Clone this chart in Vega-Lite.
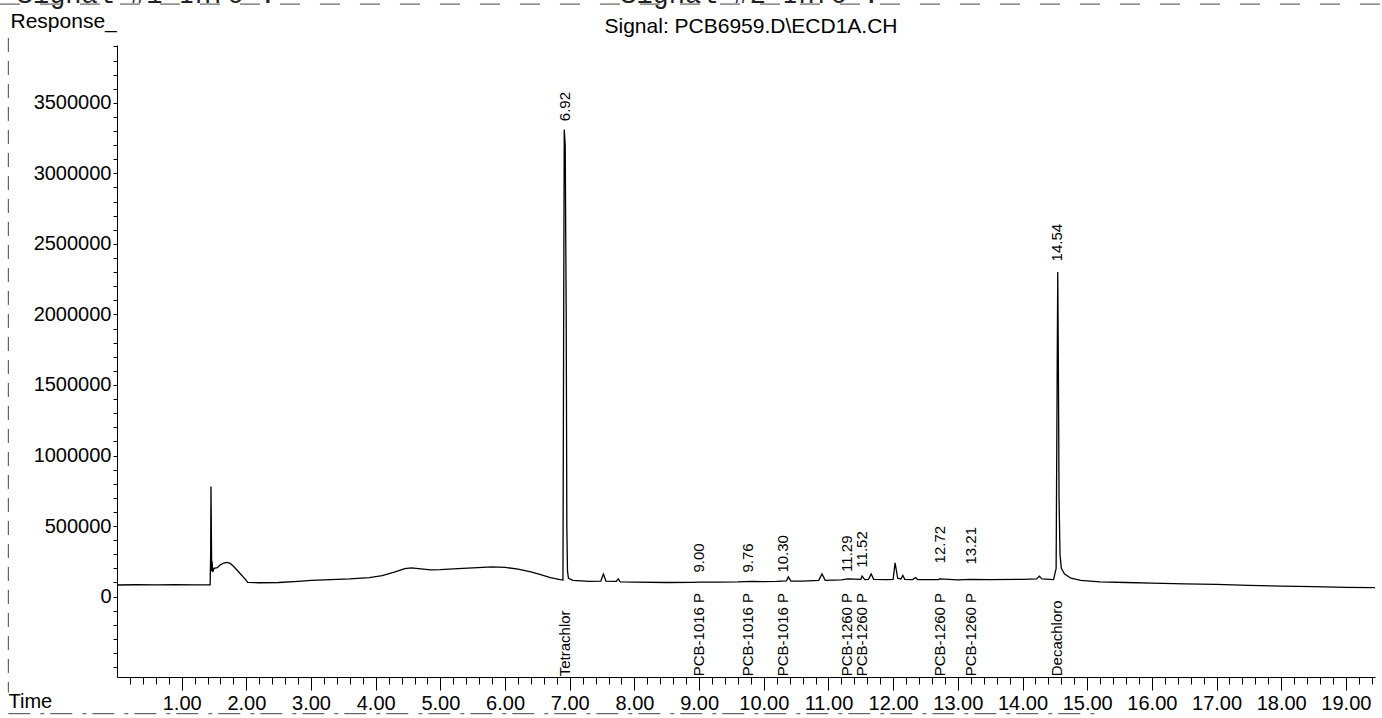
{
  "$schema": "https://vega.github.io/schema/vega-lite/v6.json",
  "width": 1258,
  "height": 632,
  "autosize": {"type": "none"},
  "padding": {"left": 117, "top": 45, "right": 7, "bottom": 41},
  "background": "white",
  "config": {"view": {"stroke": null}, "font": "Liberation Sans"},
  "title": {"text": "Signal: PCB6959.D\\ECD1A.CH", "anchor": "middle", "fontSize": 21, "fontWeight": "normal", "font": "Liberation Sans", "color": "black", "offset": -56, "dx": 5},
  "layer": [
    {
      "data": {"values": [
        {"time": 0.00, "response": 82000}, {"time": 0.30, "response": 84000}, {"time": 0.60, "response": 83000}, {"time": 0.90, "response": 84000}, {"time": 1.20, "response": 83000}, {"time": 1.44, "response": 84000},
        {"time": 1.448, "response": 300000}, {"time": 1.453, "response": 780000}, {"time": 1.46, "response": 400000}, {"time": 1.465, "response": 180000}, {"time": 1.47, "response": 250000}, {"time": 1.48, "response": 175000},
        {"time": 1.50, "response": 200000}, {"time": 1.55, "response": 205000}, {"time": 1.60, "response": 225000}, {"time": 1.65, "response": 238000}, {"time": 1.70, "response": 243000}, {"time": 1.75, "response": 235000},
        {"time": 1.80, "response": 215000}, {"time": 1.85, "response": 190000}, {"time": 1.90, "response": 165000}, {"time": 1.95, "response": 140000}, {"time": 1.98, "response": 125000}, {"time": 2.02, "response": 100000},
        {"time": 2.2, "response": 98000}, {"time": 2.5, "response": 100000}, {"time": 2.8, "response": 108000}, {"time": 3.0, "response": 115000}, {"time": 3.3, "response": 120000}, {"time": 3.6, "response": 125000},
        {"time": 3.9, "response": 135000}, {"time": 4.1, "response": 148000}, {"time": 4.3, "response": 175000}, {"time": 4.45, "response": 198000}, {"time": 4.55, "response": 203000}, {"time": 4.7, "response": 196000},
        {"time": 4.85, "response": 190000}, {"time": 5.0, "response": 191000}, {"time": 5.2, "response": 196000}, {"time": 5.5, "response": 203000}, {"time": 5.8, "response": 210000}, {"time": 6.0, "response": 207000},
        {"time": 6.2, "response": 195000}, {"time": 6.4, "response": 175000}, {"time": 6.55, "response": 155000}, {"time": 6.7, "response": 135000}, {"time": 6.85, "response": 120000}, {"time": 6.895, "response": 118000},
        {"time": 6.905, "response": 1800000}, {"time": 6.915, "response": 3310000}, {"time": 6.93, "response": 3200000}, {"time": 6.945, "response": 2000000}, {"time": 6.955, "response": 500000}, {"time": 6.965, "response": 180000},
        {"time": 6.98, "response": 130000}, {"time": 7.05, "response": 115000}, {"time": 7.3, "response": 108000}, {"time": 7.48, "response": 110000}, {"time": 7.52, "response": 160000}, {"time": 7.56, "response": 110000},
        {"time": 7.72, "response": 108000}, {"time": 7.75, "response": 125000}, {"time": 7.78, "response": 105000}, {"time": 8.0, "response": 102000}, {"time": 8.5, "response": 100000}, {"time": 8.9, "response": 101000},
        {"time": 9.0, "response": 102000}, {"time": 9.3, "response": 103000}, {"time": 9.6, "response": 104000}, {"time": 9.8, "response": 108000}, {"time": 10.0, "response": 106000}, {"time": 10.2, "response": 108000},
        {"time": 10.35, "response": 112000}, {"time": 10.38, "response": 140000}, {"time": 10.42, "response": 110000}, {"time": 10.6, "response": 110000}, {"time": 10.85, "response": 115000}, {"time": 10.9, "response": 160000},
        {"time": 10.95, "response": 115000}, {"time": 11.2, "response": 118000}, {"time": 11.3, "response": 125000}, {"time": 11.5, "response": 122000}, {"time": 11.52, "response": 145000}, {"time": 11.56, "response": 120000},
        {"time": 11.62, "response": 122000}, {"time": 11.66, "response": 160000}, {"time": 11.7, "response": 122000}, {"time": 11.9, "response": 120000}, {"time": 12.0, "response": 122000}, {"time": 12.03, "response": 240000},
        {"time": 12.07, "response": 130000}, {"time": 12.12, "response": 125000}, {"time": 12.15, "response": 150000}, {"time": 12.18, "response": 122000}, {"time": 12.3, "response": 120000}, {"time": 12.35, "response": 135000},
        {"time": 12.38, "response": 120000}, {"time": 12.7, "response": 120000}, {"time": 12.72, "response": 125000}, {"time": 13.0, "response": 118000}, {"time": 13.21, "response": 122000}, {"time": 13.5, "response": 120000},
        {"time": 14.0, "response": 122000}, {"time": 14.22, "response": 125000}, {"time": 14.26, "response": 145000}, {"time": 14.3, "response": 125000}, {"time": 14.48, "response": 120000}, {"time": 14.52, "response": 200000},
        {"time": 14.535, "response": 1500000}, {"time": 14.545, "response": 2300000}, {"time": 14.555, "response": 1600000}, {"time": 14.565, "response": 700000}, {"time": 14.58, "response": 300000}, {"time": 14.6, "response": 200000},
        {"time": 14.65, "response": 160000}, {"time": 14.75, "response": 130000}, {"time": 14.9, "response": 115000}, {"time": 15.2, "response": 105000}, {"time": 15.6, "response": 100000}, {"time": 16.0, "response": 96000},
        {"time": 16.5, "response": 90000}, {"time": 17.0, "response": 86000}, {"time": 17.5, "response": 80000}, {"time": 18.0, "response": 74000}, {"time": 18.5, "response": 70000}, {"time": 19.0, "response": 66000},
        {"time": 19.45, "response": 63000}
      ]},
      "mark": {"type": "line", "color": "black", "strokeWidth": 1.3, "clip": true},
      "encoding": {
        "x": {"field": "time", "type": "quantitative",
          "scale": {"domain": [0, 19.45], "nice": false, "zero": false},
          "axis": {
            "title": "Time", "titleFont": "Liberation Sans", "titleFontSize": 20, "titleFontWeight": "normal", "titleColor": "black",
            "titleX": -109, "titleY": 30, "titleAlign": "left", "titleBaseline": "alphabetic", "titleAnchor": "start",
            "tickCount": 1000,
            "values": [0.2,0.4,0.6,0.8,1,1.2,1.4,1.6,1.8,2,2.2,2.4,2.6,2.8,3,3.2,3.4,3.6,3.8,4,4.2,4.4,4.6,4.8,5,5.2,5.4,5.6,5.8,6,6.2,6.4,6.6,6.8,7,7.2,7.4,7.6,7.8,8,8.2,8.4,8.6,8.8,9,9.2,9.4,9.6,9.8,10,10.2,10.4,10.6,10.8,11,11.2,11.4,11.6,11.8,12,12.2,12.4,12.6,12.8,13,13.2,13.4,13.6,13.8,14,14.2,14.4,14.6,14.8,15,15.2,15.4,15.6,15.8,16,16.2,16.4,16.6,16.8,17,17.2,17.4,17.6,17.8,18,18.2,18.4,18.6,18.8,19,19.2,19.4],
            "labelExpr": "abs(datum.value - round(datum.value)) < 0.001 ? format(datum.value, '.2f') : ''",
            "labelFont": "Liberation Sans", "labelFontSize": 20, "labelColor": "black", "labelOverlap": false, "labelFlush": false, "labelPadding": 3,
            "tickSize": {"condition": {"test": "abs(datum.value - round(datum.value)) < 0.001", "value": 13}, "value": 7},
            "tickColor": "black", "tickWidth": 1, "domainColor": "black", "domainWidth": 1, "grid": false
          }
        },
        "y": {"field": "response", "type": "quantitative",
          "scale": {"domain": [-570000, 3910000], "nice": false, "zero": false},
          "axis": {
            "title": "Response_", "titleFont": "Liberation Sans", "titleFontSize": 21, "titleFontWeight": "normal", "titleColor": "black",
            "titleAngle": 0, "titleX": -107, "titleY": -18, "titleAlign": "left", "titleBaseline": "alphabetic", "titleAnchor": "start",
            "tickCount": 1000,
            "values": [-500000,-400000,-300000,-200000,-100000,0,100000,200000,300000,400000,500000,600000,700000,800000,900000,1000000,1100000,1200000,1300000,1400000,1500000,1600000,1700000,1800000,1900000,2000000,2100000,2200000,2300000,2400000,2500000,2600000,2700000,2800000,2900000,3000000,3100000,3200000,3300000,3400000,3500000,3600000,3700000,3800000,3900000],
            "labelExpr": "datum.value >= 0 && datum.value % 500000 === 0 ? format(datum.value, 'd') : ''",
            "labelFont": "Liberation Sans", "labelFontSize": 20, "labelColor": "black", "labelOverlap": false, "labelFlush": false, "labelPadding": 2,
            "tickSize": 4, "tickColor": "black", "domainColor": "black", "domainWidth": 1, "grid": false
          }
        }
      }
    },
    {
      "data": {"values": [
        {"time": 6.92, "label": "6.92", "compound": "Tetrachlor", "response": 3370000},
        {"time": 9.00, "label": "9.00", "compound": "PCB-1016 P", "response": 170000},
        {"time": 9.76, "label": "9.76", "compound": "PCB-1016 P", "response": 170000},
        {"time": 10.30, "label": "10.30", "compound": "PCB-1016 P", "response": 170000},
        {"time": 11.29, "label": "11.29", "compound": "PCB-1260 P", "response": 175000},
        {"time": 11.52, "label": "11.52", "compound": "PCB-1260 P", "response": 205000},
        {"time": 12.72, "label": "12.72", "compound": "PCB-1260 P", "response": 235000},
        {"time": 13.21, "label": "13.21", "compound": "PCB-1260 P", "response": 227000},
        {"time": 14.54, "label": "14.54", "compound": "Decachloro", "response": 2376000}
      ]},
      "layer": [
        {
          "mark": {"type": "text", "angle": 270, "align": "left", "baseline": "middle", "font": "Liberation Sans", "fontSize": 15, "color": "black"},
          "encoding": {
            "x": {"field": "time", "type": "quantitative"},
            "y": {"field": "response", "type": "quantitative"},
            "text": {"field": "label"}
          }
        },
        {
          "mark": {"type": "text", "angle": 270, "align": "left", "baseline": "middle", "font": "Liberation Sans", "fontSize": 15, "color": "black"},
          "encoding": {
            "x": {"field": "time", "type": "quantitative"},
            "y": {"datum": -565000, "type": "quantitative"},
            "text": {"field": "compound"}
          }
        }
      ]
    },
    {
      "data": {"values": [{"header": "Signal #1 Info :", "slot": 1}, {"header": "Signal #2 Info :", "slot": 2}]},
      "transform": [{"filter": "datum.slot === 1"}],
      "mark": {"type": "text", "clip": false, "align": "left", "baseline": "alphabetic", "font": "Liberation Mono", "fontSize": 27, "color": "#222"},
      "encoding": {
        "x": {"datum": -1.55, "type": "quantitative"},
        "y": {"datum": 4210000, "type": "quantitative"},
        "text": {"field": "header"}
      }
    },
    {
      "data": {"values": [{"header": "Signal #1 Info :", "slot": 1}, {"header": "Signal #2 Info :", "slot": 2}]},
      "transform": [{"filter": "datum.slot === 2"}],
      "mark": {"type": "text", "clip": false, "align": "left", "baseline": "alphabetic", "font": "Liberation Mono", "fontSize": 27, "color": "#222"},
      "encoding": {
        "x": {"datum": 7.78, "type": "quantitative"},
        "y": {"datum": 4210000, "type": "quantitative"},
        "text": {"field": "header"}
      }
    },
    {
      "data": {"values": [{"edge": "left"}]},
      "mark": {"type": "rule", "clip": false, "color": "#444", "strokeWidth": 1, "strokeDash": [14, 9]},
      "encoding": {
        "x": {"datum": -1.68, "type": "quantitative"},
        "y": {"datum": 3960000, "type": "quantitative"},
        "y2": {"datum": -680000}
      }
    },
    {
      "data": {"values": [{"edge": "bottom"}]},
      "mark": {"type": "rule", "clip": false, "color": "#444", "strokeWidth": 1, "strokeDash": [22, 10, 4, 6]},
      "encoding": {
        "x": {"datum": -1.68, "type": "quantitative"},
        "x2": {"datum": 15.2},
        "y": {"datum": -830000, "type": "quantitative"}
      }
    },
    {
      "data": {"values": [{"edge": "top"}]},
      "mark": {"type": "rule", "clip": false, "color": "#444", "strokeWidth": 1, "strokeDash": [20, 20]},
      "encoding": {
        "x": {"datum": -1.81, "type": "quantitative"},
        "x2": {"datum": 19.55},
        "y": {"datum": 4200000, "type": "quantitative"}
      }
    }
  ]
}
